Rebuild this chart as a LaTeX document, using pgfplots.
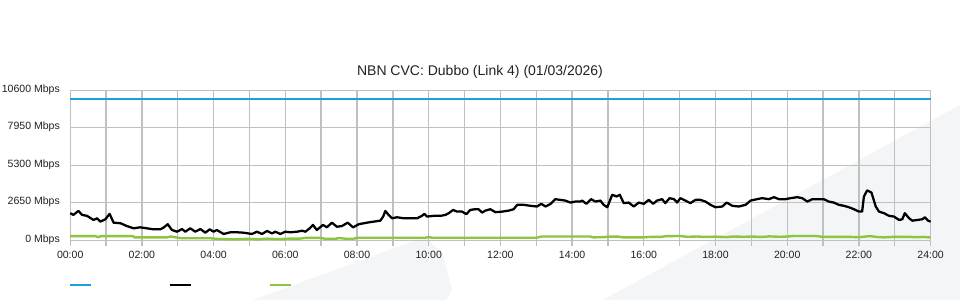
\documentclass[border=0pt]{standalone}
\usepackage{fontspec}
\setmainfont{Liberation Sans}
\usepackage{pgfplots}
\pgfplotsset{compat=1.18}
\definecolor{cvcblue}{RGB}{30,160,224}
\definecolor{cvcgreen}{RGB}{140,198,63}
\definecolor{gridc}{RGB}{192,192,192}
\definecolor{bgswoosh}{RGB}{244,245,247}
\definecolor{txt}{RGB}{34,34,34}
\begin{document}
\begin{tikzpicture}
\path[use as bounding box] (0,0) rectangle (720pt,225pt);
\fill[white] (0,0) rectangle (720pt,225pt);
% decorative background swooshes
\fill[bgswoosh] (452.25pt,0pt) -- (720pt,146.25pt) -- (720pt,0pt) -- cycle;
\fill[bgswoosh] (189.75pt,0pt) -- (318.75pt,47.25pt) -- (332.25pt,33.75pt) -- (339pt,7.5pt) -- (334.5pt,0pt) -- cycle;
\begin{axis}[
  at={(52.65pt,40.5pt)}, anchor=south west,
  scale only axis, width=645.3pt, height=116.85pt,
  xmin=0, xmax=24, ymin=-410, ymax=10600,
  scaled y ticks=false,
  axis line style={draw=none},
  major tick length=0pt, minor tick length=0pt,
  xtick={0,2,...,24},
  xticklabels={00:00,02:00,04:00,06:00,08:00,10:00,12:00,14:00,16:00,18:00,20:00,22:00,24:00},
  minor xtick={1,3,...,23},
  ytick={0,2650,5300,7950,10600},
  yticklabels={0 Mbps,2650 Mbps,5300 Mbps,7950 Mbps,10600 Mbps},
  grid=both,
  major grid style={gridc, line width=1pt},
  minor grid style={gridc, line width=1pt},
  tick label style={font=\fontsize{7.9}{9}\selectfont, text=txt},
  yticklabel style={anchor=east, inner sep=0pt, xshift=-7.6pt, yshift=0.6pt},
  xticklabel style={anchor=north, inner sep=0pt, yshift=-4pt},
  clip=false,
]
\addplot[cvcblue, line width=1.5pt] coordinates {(0,10000) (24,10000)};
\addplot[cvcgreen, line width=1.8pt] coordinates {
(0,290) (0.7,290) (0.78,220) (0.86,290) (1.75,290) (1.8,200) (2.7,200) (2.8,260) (2.95,200) (3.1,140) (3.9,140) (4.1,90) (4.6,60) (5.0,100) (5.2,60) (5.5,110) (5.8,70) (6.1,110) (6.4,110) (6.55,160) (7.0,160) (7.1,100) (7.4,100) (7.5,150) (7.7,100) (7.9,100) (8.0,170) (9.0,170) (9.9,170) (10.0,220) (10.1,170) (12.0,170) (13.0,170) (13.15,260) (14.0,260) (14.5,260) (14.6,200) (14.9,220) (15.0,250) (15.3,250) (15.4,200) (16.0,200) (16.2,240) (16.5,240) (16.6,280) (17.0,300) (17.2,240) (17.5,260) (17.7,230) (18.0,250) (18.3,220) (18.5,260) (18.8,240) (19.0,260) (19.3,230) (19.5,270) (19.8,240) (20.0,260) (20.2,300) (20.8,300) (21.0,230) (21.5,230) (21.8,230) (22.0,210) (22.3,290) (22.5,230) (22.7,200) (23.0,240) (23.4,240) (23.6,210) (23.8,230) (24,190)
};
\addplot[black, line width=1.7pt, line join=round] coordinates {
(0.00,1910) (0.09,1790) (0.23,2070) (0.33,1790) (0.47,1720) (0.65,1430) (0.75,1550) (0.84,1310) (0.98,1480) (1.10,1860) (1.21,1240) (1.40,1200) (1.58,1000) (1.77,840) (1.95,910) (2.14,840) (2.32,770) (2.51,770) (2.60,880) (2.72,1130) (2.84,720) (2.98,600) (3.12,790) (3.21,600) (3.35,840) (3.49,600) (3.63,790) (3.77,530) (3.89,770) (4.00,600) (4.09,720) (4.28,440) (4.47,560) (4.65,560) (4.84,530) (5.07,440) (5.21,600) (5.35,440) (5.49,650) (5.63,480) (5.72,600) (5.86,440) (6.00,600) (6.14,560) (6.33,600) (6.47,670) (6.56,600) (6.68,840) (6.77,1080) (6.88,720) (7.05,1080) (7.16,910) (7.30,1240) (7.44,950) (7.58,1000) (7.74,1240) (7.89,910) (8.05,1130) (8.28,1240) (8.46,1310) (8.65,1380) (8.73,1670) (8.79,2070) (8.88,1790) (8.98,1550) (9.12,1620) (9.30,1550) (9.49,1550) (9.68,1550) (9.81,1720) (9.88,1860) (9.95,1670) (10.14,1720) (10.33,1720) (10.47,1790) (10.56,1910) (10.68,2140) (10.79,2020) (10.93,2020) (11.05,1840) (11.16,2140) (11.30,2190) (11.39,2190) (11.49,1950) (11.58,2090) (11.72,2190) (11.86,1980) (12.05,2020) (12.23,2090) (12.37,2190) (12.47,2500) (12.65,2500) (12.84,2430) (13.02,2380) (13.14,2570) (13.26,2380) (13.40,2570) (13.53,2900) (13.67,2850) (13.81,2800) (13.95,2660) (14.09,2730) (14.23,2730) (14.28,2800) (14.40,2570) (14.53,2900) (14.65,2730) (14.79,2800) (14.88,2500) (14.98,2330) (15.12,3210) (15.24,3090) (15.33,3210) (15.44,2620) (15.58,2660) (15.72,2380) (15.86,2660) (16.00,2570) (16.14,2850) (16.26,2570) (16.37,2800) (16.51,2900) (16.60,2620) (16.72,2970) (16.84,2900) (16.93,2660) (17.02,2970) (17.16,2800) (17.30,2620) (17.44,2850) (17.58,2850) (17.72,2730) (17.86,2500) (18.00,2330) (18.19,2380) (18.31,2660) (18.47,2430) (18.65,2380) (18.84,2500) (18.98,2800) (19.16,2900) (19.30,2970) (19.49,2900) (19.63,3040) (19.77,2900) (19.95,2900) (20.09,2970) (20.28,3040) (20.42,2970) (20.56,2730) (20.70,2900) (20.88,2900) (21.02,2900) (21.16,2730) (21.30,2660) (21.44,2500) (21.58,2430) (21.72,2330) (21.86,2190) (22.00,2020) (22.09,2020) (22.14,3090) (22.23,3520) (22.35,3370) (22.47,2380) (22.56,2020) (22.70,1910) (22.84,1720) (22.98,1670) (23.12,1430) (23.21,1480) (23.28,1910) (23.40,1550) (23.49,1380) (23.63,1430) (23.77,1480) (23.84,1620) (23.93,1380) (24.00,1310)
};
\end{axis}
\node[font=\fontsize{10.5}{12}\selectfont, text=txt] at (360pt,171pt) {NBN CVC: Dubbo (Link 4) (01/03/2026)};
% legend swatches (no text in the reference)
\draw[cvcblue, line width=1.7pt] (52.5pt,11.25pt) -- (68.25pt,11.25pt);
\draw[black, line width=1.7pt] (127.5pt,11.25pt) -- (143.25pt,11.25pt);
\draw[cvcgreen, line width=1.7pt] (202.5pt,11.25pt) -- (218.25pt,11.25pt);
\end{tikzpicture}
\end{document}
